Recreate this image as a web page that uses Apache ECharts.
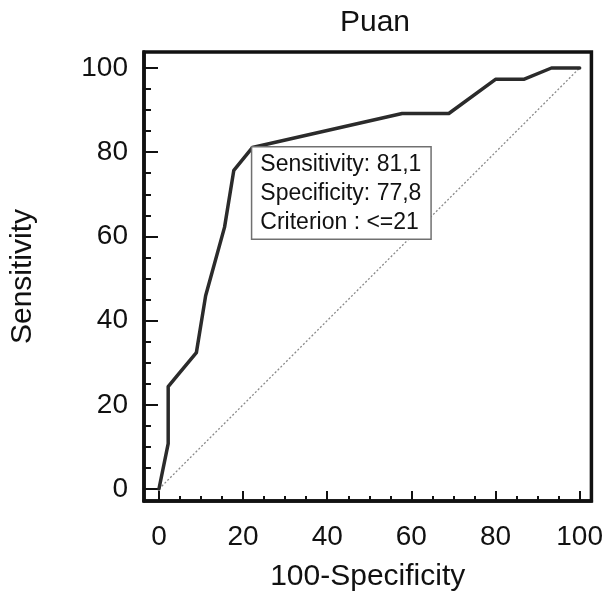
<!DOCTYPE html>
<html>
<head>
<meta charset="utf-8">
<script src="https://cdn.jsdelivr.net/npm/echarts@6/dist/echarts.min.js"></script>
<style>html,body{margin:0;padding:0;background:#fff}#c{width:606px;height:598px}</style>
</head>
<body>
<div id="c"></div>
<script>
// ROC curve points: [100-Specificity, Sensitivity]
const fpr = [0, 2.2, 2.2, 4.4, 8.9, 11.1, 15.6, 17.8, 22.2, 57.8, 68.9, 80.0, 86.7, 93.3, 100];
const tpr = [0, 10.8, 24.3, 27.0, 32.4, 45.9, 62.2, 75.7, 81.1, 89.2, 89.2, 97.3, 97.3, 100, 100];
const diagX = [0, 100];
const diagY = [0, 100];
const majorTicks = [0, 20, 40, 60, 80, 100];
const minorTicks = [0, 5, 10, 15, 20, 25, 30, 35, 40, 45, 50, 55, 60, 65, 70, 75, 80, 85, 90, 95, 100];
const criterionPoint = [22.2, 81.1];
const annotation = ['Sensitivity: 81,1', 'Specificity: 77,8', 'Criterion : <=21'];
const titleText = 'Puan';
const xName = '100-Specificity';
const yName = 'Sensitivity';

const FONT = 'Liberation Sans, Arial, sans-serif';
const chart = echarts.init(document.getElementById('c'), null, {renderer: 'canvas'});
const xMin = -3.55, xMax = 102.8, yMin = -2.85, yMax = 103.8;

const baseX = {type: 'value', min: xMin, max: xMax, gridIndex: 0, position: 'bottom', splitLine: {show: false}};
const baseY = {type: 'value', min: yMin, max: yMax, gridIndex: 0, position: 'left', splitLine: {show: false}};

chart.setOption({
  animation: false,
  backgroundColor: '#fff',
  title: {
    text: titleText, left: 370, top: 3, textAlign: 'center',
    textStyle: {fontFamily: FONT, fontSize: 30, fontWeight: 'normal', color: '#111'}
  },
  grid: {
    left: 144, right: 13, top: 52, bottom: 97,
    show: true, borderColor: '#111', borderWidth: 3.5, backgroundColor: 'transparent'
  },
  xAxis: [
    Object.assign({}, baseX, {
      name: xName, nameLocation: 'middle', nameGap: 61,
      nameTextStyle: {fontFamily: FONT, fontSize: 30, color: '#111'},
      axisLine: {show: true, onZero: false, lineStyle: {color: '#111', width: 3.5}},
      axisTick: {show: true, inside: true, length: 10, customValues: majorTicks, lineStyle: {color: '#111', width: 2}},
      axisLabel: {show: true, margin: 22, customValues: majorTicks, fontFamily: FONT, fontSize: 28, color: '#111'}
    }),
    Object.assign({}, baseX, {
      axisLine: {show: false, onZero: false},
      axisTick: {show: true, inside: true, length: 5, customValues: minorTicks, lineStyle: {color: '#111', width: 2}},
      axisLabel: {show: false}
    })
  ],
  yAxis: [
    Object.assign({}, baseY, {
      name: yName, nameLocation: 'middle', nameGap: 106, nameRotate: 90,
      nameTextStyle: {fontFamily: FONT, fontSize: 30, color: '#111'},
      axisLine: {show: true, onZero: false, lineStyle: {color: '#111', width: 3.5}},
      axisTick: {show: true, inside: true, length: 14, customValues: majorTicks, lineStyle: {color: '#111', width: 2}},
      axisLabel: {show: true, margin: 16, customValues: majorTicks, fontFamily: FONT, fontSize: 28, color: '#111'}
    }),
    Object.assign({}, baseY, {
      axisLine: {show: false, onZero: false},
      axisTick: {show: true, inside: true, length: 7, customValues: minorTicks, lineStyle: {color: '#111', width: 2}},
      axisLabel: {show: false}
    })
  ],
  series: [
    {
      type: 'line', xAxisIndex: 0, yAxisIndex: 0,
      data: diagX.map((v, i) => [v, diagY[i]]),
      symbol: 'none', silent: true,
      lineStyle: {color: '#8a8a8a', width: 1.3, type: [2, 2]}
    },
    {
      type: 'line', xAxisIndex: 0, yAxisIndex: 0,
      data: fpr.map((v, i) => [v, tpr[i]]),
      symbol: 'none',
      lineStyle: {color: '#2b2b2b', width: 3.5, join: 'round', cap: 'round'},
      markPoint: {
        symbol: 'circle', symbolSize: 0.01, silent: true,
        data: [{coord: criterionPoint}],
        label: {
          show: true, position: [0, 0], align: 'left', verticalAlign: 'top',
          formatter: annotation.join('\n'),
          fontFamily: FONT, fontSize: 23, color: '#111', lineHeight: 29,
          backgroundColor: '#fff', borderColor: '#707070', borderWidth: 1.5,
          padding: [3, 8, 1, 8], width: 162
        }
      }
    }
  ]
});
</script>
</body>
</html>
